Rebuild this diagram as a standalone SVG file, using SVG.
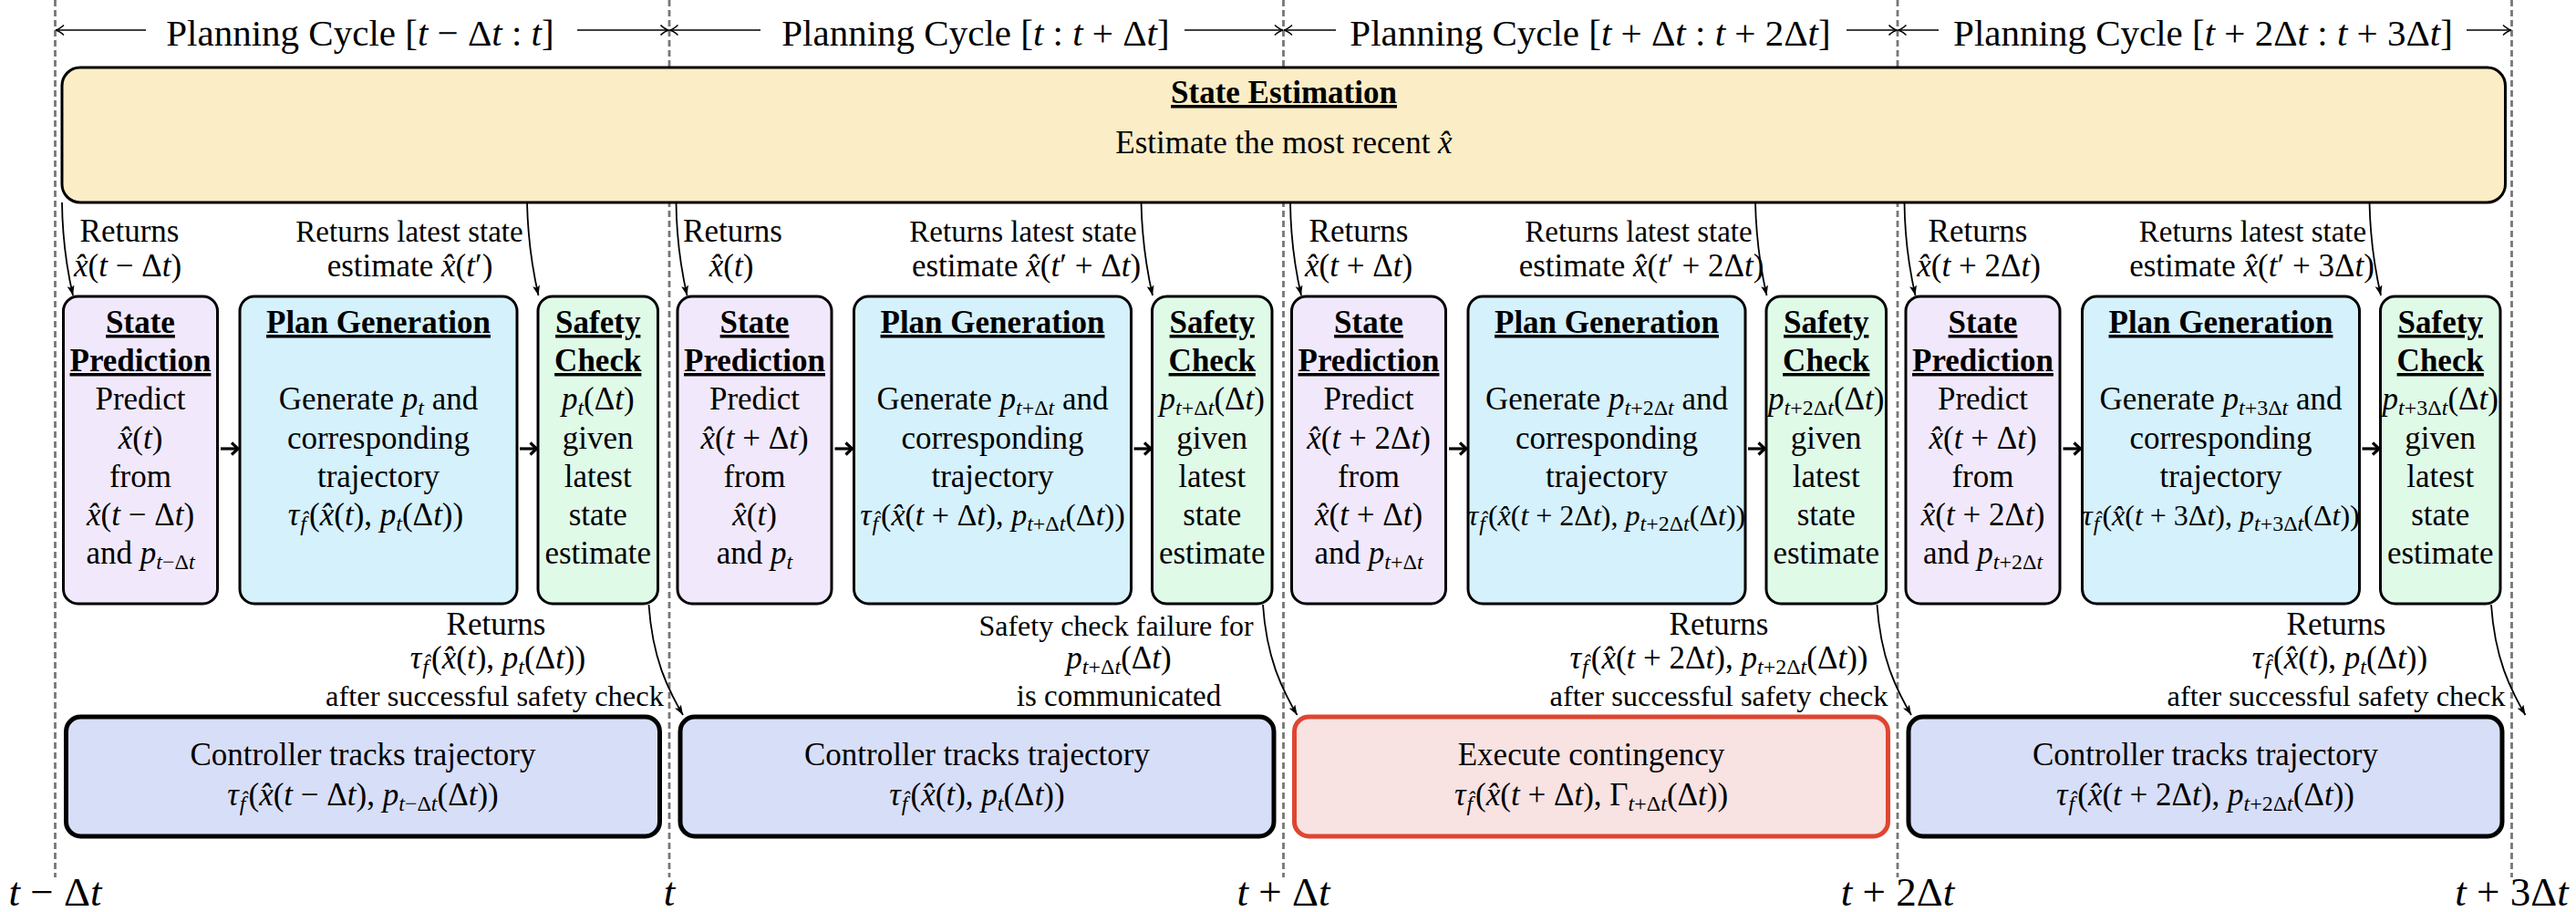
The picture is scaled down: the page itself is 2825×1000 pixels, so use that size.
<svg xmlns="http://www.w3.org/2000/svg" width="2825" height="1000" viewBox="0 0 2825 1000">
<style>
text{font-family:"Liberation Serif","Times New Roman",serif;font-size:35px;fill:#000;text-anchor:middle}
.i{font-style:italic}
.s{font-size:24px}
.b{font-weight:bold;text-decoration:underline}
.ttl{font-size:41px}
.tl{font-size:45px}
.m32{font-size:32px}
.m34{font-size:34px}
.f33{font-size:33px}
.f32{font-size:32.5px}
.box{stroke:#000;stroke-width:3}
.low{stroke:#000;stroke-width:5}
.se{fill:#FBEDC6}
.sp{fill:#F1E9FB}
.pg{fill:#D5F1FC}
.sc{fill:#E0FAE8}
.ct{fill:#D7DEF8}
.cg{fill:#F8E2E2;stroke:#DF4530;stroke-width:5}
.dash{stroke:#777;stroke-width:2.8;stroke-dasharray:7 4;fill:none}
.cur{fill:none;stroke:#000;stroke-width:1.8;marker-end:url(#ah)}
.tarr{fill:none;stroke:#000;stroke-width:1.6;marker-end:url(#to)}
.barr{fill:none;stroke:#000;stroke-width:3.2;marker-end:url(#bh)}
</style>
<defs>
<marker id="ah" markerUnits="userSpaceOnUse" markerWidth="12" markerHeight="9" refX="11" refY="4" orient="auto"><path d="M0,0 L11,4 L0,8 L2.5,4 z" fill="#000"/></marker>
<marker id="to" markerUnits="userSpaceOnUse" markerWidth="12" markerHeight="14" refX="10" refY="7" orient="auto"><path d="M1,1.5 Q6,6 10,7 Q6,8 1,12.5" fill="none" stroke="#000" stroke-width="1.6"/></marker>
<marker id="bh" markerUnits="userSpaceOnUse" markerWidth="12" markerHeight="16" refX="9" refY="8" orient="auto"><path d="M2,1.5 L9,8 L2,14.5" fill="none" stroke="#000" stroke-width="3.2"/></marker>
</defs>

<g id="timeline">
<line class="dash" x1="60.5" y1="0" x2="60.5" y2="962"/>
<line class="dash" x1="734" y1="0" x2="734" y2="962"/>
<line class="dash" x1="1407.5" y1="0" x2="1407.5" y2="962"/>
<line class="dash" x1="2081" y1="0" x2="2081" y2="962"/>
<line class="dash" x1="2754.5" y1="0" x2="2754.5" y2="962"/>
<text class="tl" x="60.5" y="993"><tspan class="i">t</tspan> − Δ<tspan class="i">t</tspan></text>
<text class="tl" x="734" y="993"><tspan class="i">t</tspan></text>
<text class="tl" x="1407.5" y="993"><tspan class="i">t</tspan> + Δ<tspan class="i">t</tspan></text>
<text class="tl" x="2081" y="993"><tspan class="i">t</tspan> + 2Δ<tspan class="i">t</tspan></text>
<text class="tl" x="2754.5" y="993"><tspan class="i">t</tspan> + 3Δ<tspan class="i">t</tspan></text>
</g>

<g id="cycle-titles">
<path class="tarr" d="M160,33 L61,33"/>
<path class="tarr" d="M633,33 L733.5,33"/>
<text class="ttl" x="395" y="50">Planning Cycle [<tspan class="i">t</tspan> − Δ<tspan class="i">t</tspan> : <tspan class="i">t</tspan>]</text>
<path class="tarr" d="M834,33 L734.5,33"/>
<path class="tarr" d="M1299,33 L1407,33"/>
<text class="ttl" x="1070" y="50">Planning Cycle [<tspan class="i">t</tspan> : <tspan class="i">t</tspan> + Δ<tspan class="i">t</tspan>]</text>
<path class="tarr" d="M1465,33 L1408,33"/>
<path class="tarr" d="M2025,33 L2080.5,33"/>
<text class="ttl" x="1744" y="50">Planning Cycle [<tspan class="i">t</tspan> + Δ<tspan class="i">t</tspan> : <tspan class="i">t</tspan> + 2Δ<tspan class="i">t</tspan>]</text>
<path class="tarr" d="M2126,33 L2081.5,33"/>
<path class="tarr" d="M2705,33 L2754,33"/>
<text class="ttl" x="2416" y="50">Planning Cycle [<tspan class="i">t</tspan> + 2Δ<tspan class="i">t</tspan> : <tspan class="i">t</tspan> + 3Δ<tspan class="i">t</tspan>]</text>
</g>

<g id="state-estimation">
<rect class="box se" x="68" y="74" width="2679.5" height="148" rx="20"/>
<text class="b" x="1408" y="113">State Estimation</text>
<text x="1408" y="168">Estimate the most recent <tspan class="i">x̂</tspan></text>
</g>

<!-- Cycle 1 -->
<g id="state-prediction-1">
<rect class="box sp" x="69.5" y="325" width="169" height="337" rx="16"/>
<text class="b" x="154" y="365">State</text>
<text class="b" x="154" y="407">Prediction</text>
<text x="154" y="449">Predict</text>
<text x="154" y="491.5"><tspan class="i">x̂</tspan>(<tspan class="i">t</tspan>)</text>
<text x="154" y="533.5">from</text>
<text x="154" y="576"><tspan class="i">x̂</tspan>(<tspan class="i">t</tspan> − Δ<tspan class="i">t</tspan>)</text>
<text x="154" y="618">and <tspan class="i">p</tspan><tspan class="s i" dy="6">t</tspan><tspan class="s">−Δ</tspan><tspan class="s i">t</tspan></text>
</g>
<g id="plan-generation-1">
<rect class="box pg" x="263" y="325" width="304" height="337" rx="16"/>
<text class="b" x="415" y="365">Plan Generation</text>
<text x="415" y="449">Generate <tspan class="i">p</tspan><tspan class="s i" dy="6">t</tspan><tspan dy="-6"> and</tspan></text>
<text x="415" y="491.5">corresponding</text>
<text x="415" y="533.5">trajectory</text>
<text x="412" y="576"><tspan class="i">τ</tspan><tspan class="s i" dy="6" dx="1">f̂</tspan><tspan dy="-6" dx="3">(</tspan><tspan class="i">x̂</tspan>(<tspan class="i">t</tspan>), <tspan class="i">p</tspan><tspan class="s i" dy="6">t</tspan><tspan dy="-6">(Δ</tspan><tspan class="i">t</tspan>))</text>
</g>
<g id="safety-check-1">
<rect class="box sc" x="590" y="325" width="131.5" height="337" rx="16"/>
<text class="b" x="655.75" y="365">Safety</text>
<text class="b" x="655.75" y="407">Check</text>
<text x="655.75" y="449"><tspan class="i">p</tspan><tspan class="s i" dy="6">t</tspan><tspan dy="-6">(Δ</tspan><tspan class="i">t</tspan>)</text>
<text x="655.75" y="491.5">given</text>
<text x="655.75" y="533.5">latest</text>
<text x="655.75" y="576">state</text>
<text x="655.75" y="618">estimate</text>
</g>
<g id="controller-1">
<rect class="low ct" x="72.5" y="786" width="651" height="131" rx="16"/>
<text x="398" y="839">Controller tracks trajectory</text>
<text x="398" y="883"><tspan class="i">τ</tspan><tspan class="s i" dy="6" dx="1">f̂</tspan><tspan dy="-6" dx="3">(</tspan><tspan class="i">x̂</tspan>(<tspan class="i">t</tspan> − Δ<tspan class="i">t</tspan>), <tspan class="i">p</tspan><tspan class="s i" dy="6">t</tspan><tspan class="s">−Δ</tspan><tspan class="s i">t</tspan><tspan dy="-6">(Δ</tspan><tspan class="i">t</tspan>))</text>
</g>

<!-- Cycle 2 -->
<g id="state-prediction-2">
<rect class="box sp" x="743" y="325" width="169" height="337" rx="16"/>
<text class="b" x="827.5" y="365">State</text>
<text class="b" x="827.5" y="407">Prediction</text>
<text x="827.5" y="449">Predict</text>
<text x="827.5" y="491.5"><tspan class="i">x̂</tspan>(<tspan class="i">t</tspan> + Δ<tspan class="i">t</tspan>)</text>
<text x="827.5" y="533.5">from</text>
<text x="827.5" y="576"><tspan class="i">x̂</tspan>(<tspan class="i">t</tspan>)</text>
<text x="827.5" y="618">and <tspan class="i">p</tspan><tspan class="s i" dy="6">t</tspan></text>
</g>
<g id="plan-generation-2">
<rect class="box pg" x="936.5" y="325" width="304" height="337" rx="16"/>
<text class="b" x="1088.5" y="365">Plan Generation</text>
<text x="1088.5" y="449">Generate <tspan class="i">p</tspan><tspan class="s i" dy="6">t</tspan><tspan class="s">+Δ</tspan><tspan class="s i">t</tspan><tspan dy="-6"> and</tspan></text>
<text x="1088.5" y="491.5">corresponding</text>
<text x="1088.5" y="533.5">trajectory</text>
<text class="m34" x="1088.5" y="576"><tspan class="i">τ</tspan><tspan class="s i" dy="6" dx="1">f̂</tspan><tspan dy="-6" dx="3">(</tspan><tspan class="i">x̂</tspan>(<tspan class="i">t</tspan> + Δ<tspan class="i">t</tspan>), <tspan class="i">p</tspan><tspan class="s i" dy="6">t</tspan><tspan class="s">+Δ</tspan><tspan class="s i">t</tspan><tspan dy="-6">(Δ</tspan><tspan class="i">t</tspan>))</text>
</g>
<g id="safety-check-2">
<rect class="box sc" x="1263.5" y="325" width="131.5" height="337" rx="16"/>
<text class="b" x="1329.25" y="365">Safety</text>
<text class="b" x="1329.25" y="407">Check</text>
<text x="1329.25" y="449"><tspan class="i">p</tspan><tspan class="s i" dy="6">t</tspan><tspan class="s">+Δ</tspan><tspan class="s i">t</tspan><tspan dy="-6">(Δ</tspan><tspan class="i">t</tspan>)</text>
<text x="1329.25" y="491.5">given</text>
<text x="1329.25" y="533.5">latest</text>
<text x="1329.25" y="576">state</text>
<text x="1329.25" y="618">estimate</text>
</g>
<g id="controller-2">
<rect class="low ct" x="746" y="786" width="651" height="131" rx="16"/>
<text x="1071.5" y="839">Controller tracks trajectory</text>
<text x="1071.5" y="883"><tspan class="i">τ</tspan><tspan class="s i" dy="6" dx="1">f̂</tspan><tspan dy="-6" dx="3">(</tspan><tspan class="i">x̂</tspan>(<tspan class="i">t</tspan>), <tspan class="i">p</tspan><tspan class="s i" dy="6">t</tspan><tspan dy="-6">(Δ</tspan><tspan class="i">t</tspan>))</text>
</g>

<!-- Cycle 3 -->
<g id="state-prediction-3">
<rect class="box sp" x="1416.5" y="325" width="169" height="337" rx="16"/>
<text class="b" x="1501" y="365">State</text>
<text class="b" x="1501" y="407">Prediction</text>
<text x="1501" y="449">Predict</text>
<text x="1501" y="491.5"><tspan class="i">x̂</tspan>(<tspan class="i">t</tspan> + 2Δ<tspan class="i">t</tspan>)</text>
<text x="1501" y="533.5">from</text>
<text x="1501" y="576"><tspan class="i">x̂</tspan>(<tspan class="i">t</tspan> + Δ<tspan class="i">t</tspan>)</text>
<text x="1501" y="618">and <tspan class="i">p</tspan><tspan class="s i" dy="6">t</tspan><tspan class="s">+Δ</tspan><tspan class="s i">t</tspan></text>
</g>
<g id="plan-generation-3">
<rect class="box pg" x="1610" y="325" width="304" height="337" rx="16"/>
<text class="b" x="1762" y="365">Plan Generation</text>
<text x="1762" y="449">Generate <tspan class="i">p</tspan><tspan class="s i" dy="6">t</tspan><tspan class="s">+2Δ</tspan><tspan class="s i">t</tspan><tspan dy="-6"> and</tspan></text>
<text x="1762" y="491.5">corresponding</text>
<text x="1762" y="533.5">trajectory</text>
<text class="m32" x="1762" y="576"><tspan class="i">τ</tspan><tspan class="s i" dy="6" dx="1">f̂</tspan><tspan dy="-6" dx="3">(</tspan><tspan class="i">x̂</tspan>(<tspan class="i">t</tspan> + 2Δ<tspan class="i">t</tspan>), <tspan class="i">p</tspan><tspan class="s i" dy="6">t</tspan><tspan class="s">+2Δ</tspan><tspan class="s i">t</tspan><tspan dy="-6">(Δ</tspan><tspan class="i">t</tspan>))</text>
</g>
<g id="safety-check-3">
<rect class="box sc" x="1937" y="325" width="131.5" height="337" rx="16"/>
<text class="b" x="2002.75" y="365">Safety</text>
<text class="b" x="2002.75" y="407">Check</text>
<text x="2002.75" y="449"><tspan class="i">p</tspan><tspan class="s i" dy="6">t</tspan><tspan class="s">+2Δ</tspan><tspan class="s i">t</tspan><tspan dy="-6">(Δ</tspan><tspan class="i">t</tspan>)</text>
<text x="2002.75" y="491.5">given</text>
<text x="2002.75" y="533.5">latest</text>
<text x="2002.75" y="576">state</text>
<text x="2002.75" y="618">estimate</text>
</g>
<g id="contingency-3">
<rect class="cg" x="1419.5" y="786" width="651" height="131" rx="16"/>
<text x="1745" y="839">Execute contingency</text>
<text x="1745" y="883"><tspan class="i">τ</tspan><tspan class="s i" dy="6" dx="1">f̂</tspan><tspan dy="-6" dx="3">(</tspan><tspan class="i">x̂</tspan>(<tspan class="i">t</tspan> + Δ<tspan class="i">t</tspan>), Γ<tspan class="s i" dy="6">t</tspan><tspan class="s">+Δ</tspan><tspan class="s i">t</tspan><tspan dy="-6">(Δ</tspan><tspan class="i">t</tspan>))</text>
</g>

<!-- Cycle 4 -->
<g id="state-prediction-4">
<rect class="box sp" x="2090" y="325" width="169" height="337" rx="16"/>
<text class="b" x="2174.5" y="365">State</text>
<text class="b" x="2174.5" y="407">Prediction</text>
<text x="2174.5" y="449">Predict</text>
<text x="2174.5" y="491.5"><tspan class="i">x̂</tspan>(<tspan class="i">t</tspan> + Δ<tspan class="i">t</tspan>)</text>
<text x="2174.5" y="533.5">from</text>
<text x="2174.5" y="576"><tspan class="i">x̂</tspan>(<tspan class="i">t</tspan> + 2Δ<tspan class="i">t</tspan>)</text>
<text x="2174.5" y="618">and <tspan class="i">p</tspan><tspan class="s i" dy="6">t</tspan><tspan class="s">+2Δ</tspan><tspan class="s i">t</tspan></text>
</g>
<g id="plan-generation-4">
<rect class="box pg" x="2283.5" y="325" width="304" height="337" rx="16"/>
<text class="b" x="2435.5" y="365">Plan Generation</text>
<text x="2435.5" y="449">Generate <tspan class="i">p</tspan><tspan class="s i" dy="6">t</tspan><tspan class="s">+3Δ</tspan><tspan class="s i">t</tspan><tspan dy="-6"> and</tspan></text>
<text x="2435.5" y="491.5">corresponding</text>
<text x="2435.5" y="533.5">trajectory</text>
<text class="m32" x="2435.5" y="576"><tspan class="i">τ</tspan><tspan class="s i" dy="6" dx="1">f̂</tspan><tspan dy="-6" dx="3">(</tspan><tspan class="i">x̂</tspan>(<tspan class="i">t</tspan> + 3Δ<tspan class="i">t</tspan>), <tspan class="i">p</tspan><tspan class="s i" dy="6">t</tspan><tspan class="s">+3Δ</tspan><tspan class="s i">t</tspan><tspan dy="-6">(Δ</tspan><tspan class="i">t</tspan>))</text>
</g>
<g id="safety-check-4">
<rect class="box sc" x="2610.5" y="325" width="131.5" height="337" rx="16"/>
<text class="b" x="2676.25" y="365">Safety</text>
<text class="b" x="2676.25" y="407">Check</text>
<text x="2676.25" y="449"><tspan class="i">p</tspan><tspan class="s i" dy="6">t</tspan><tspan class="s">+3Δ</tspan><tspan class="s i">t</tspan><tspan dy="-6">(Δ</tspan><tspan class="i">t</tspan>)</text>
<text x="2676.25" y="491.5">given</text>
<text x="2676.25" y="533.5">latest</text>
<text x="2676.25" y="576">state</text>
<text x="2676.25" y="618">estimate</text>
</g>
<g id="controller-4">
<rect class="low ct" x="2093" y="786" width="651" height="131" rx="16"/>
<text x="2418.5" y="839">Controller tracks trajectory</text>
<text x="2418.5" y="883"><tspan class="i">τ</tspan><tspan class="s i" dy="6" dx="1">f̂</tspan><tspan dy="-6" dx="3">(</tspan><tspan class="i">x̂</tspan>(<tspan class="i">t</tspan> + 2Δ<tspan class="i">t</tspan>), <tspan class="i">p</tspan><tspan class="s i" dy="6">t</tspan><tspan class="s">+2Δ</tspan><tspan class="s i">t</tspan><tspan dy="-6">(Δ</tspan><tspan class="i">t</tspan>))</text>
</g>

<g id="connectors">
<path class="cur" d="M68,222 C68.5,268 74.5,300 80,324"/>
<path class="cur" d="M578,222 C579,268 585,300 590.5,324"/>
<path class="cur" d="M741.5,222 C742,268 748,300 753.5,324"/>
<path class="cur" d="M1251.5,222 C1252.5,268 1258.5,300 1264,324"/>
<path class="cur" d="M1415,222 C1415.5,268 1421.5,300 1427,324"/>
<path class="cur" d="M1925,222 C1926,268 1932,300 1937.5,324"/>
<path class="cur" d="M2088.5,222 C2089,268 2095,300 2100.5,324"/>
<path class="cur" d="M2598.5,222 C2599.5,268 2605.5,300 2611,324"/>
<path class="barr" d="M242,492 L261,492"/>
<path class="barr" d="M570,492 L588.5,492"/>
<path class="barr" d="M915.5,492 L934.5,492"/>
<path class="barr" d="M1243.5,492 L1262,492"/>
<path class="barr" d="M1589,492 L1608,492"/>
<path class="barr" d="M1917,492 L1935.5,492"/>
<path class="barr" d="M2262.5,492 L2281.5,492"/>
<path class="barr" d="M2590.5,492 L2609,492"/>
<path class="cur" d="M711.5,663 C715.5,722 732.5,756 749,784"/>
<path class="cur" d="M1385,663 C1389,722 1406,756 1422.5,784"/>
<path class="cur" d="M2058.5,663 C2062.5,722 2079.5,756 2096,784"/>
<path class="cur" d="M2732,663 C2736,722 2753,756 2769.5,784"/>
</g>

<g id="connector-labels">
<text x="142" y="265">Returns</text>
<text x="140" y="303"><tspan class="i">x̂</tspan>(<tspan class="i">t</tspan> − Δ<tspan class="i">t</tspan>)</text>
<text class="f33" x="449" y="265">Returns latest state</text>
<text x="449.5" y="303">estimate <tspan class="i">x̂</tspan>(<tspan class="i">t</tspan>′)</text>
<text x="803.5" y="265">Returns</text>
<text x="802" y="303"><tspan class="i">x̂</tspan>(<tspan class="i">t</tspan>)</text>
<text class="f33" x="1122" y="265">Returns latest state</text>
<text x="1125.5" y="303">estimate <tspan class="i">x̂</tspan>(<tspan class="i">t</tspan>′ + Δ<tspan class="i">t</tspan>)</text>
<text x="1490" y="265">Returns</text>
<text x="1490" y="303"><tspan class="i">x̂</tspan>(<tspan class="i">t</tspan> + Δ<tspan class="i">t</tspan>)</text>
<text class="f33" x="1797" y="265">Returns latest state</text>
<text x="1800" y="303">estimate <tspan class="i">x̂</tspan>(<tspan class="i">t</tspan>′ + 2Δ<tspan class="i">t</tspan>)</text>
<text x="2169" y="265">Returns</text>
<text x="2170" y="303"><tspan class="i">x̂</tspan>(<tspan class="i">t</tspan> + 2Δ<tspan class="i">t</tspan>)</text>
<text class="f33" x="2470.5" y="265">Returns latest state</text>
<text x="2469.5" y="303">estimate <tspan class="i">x̂</tspan>(<tspan class="i">t</tspan>′ + 3Δ<tspan class="i">t</tspan>)</text>

<text x="544" y="696">Returns</text>
<text x="546" y="733"><tspan class="i">τ</tspan><tspan class="s i" dy="6" dx="1">f̂</tspan><tspan dy="-6" dx="3">(</tspan><tspan class="i">x̂</tspan>(<tspan class="i">t</tspan>), <tspan class="i">p</tspan><tspan class="s i" dy="6">t</tspan><tspan dy="-6">(Δ</tspan><tspan class="i">t</tspan>))</text>
<text class="f32" x="542.5" y="774">after successful safety check</text>
<text class="m32" x="1224" y="697">Safety check failure for</text>
<text x="1227" y="733"><tspan class="i">p</tspan><tspan class="s i" dy="6">t</tspan><tspan class="s">+Δ</tspan><tspan class="s i">t</tspan><tspan dy="-6">(Δ</tspan><tspan class="i">t</tspan>)</text>
<text class="f33" x="1227" y="774">is communicated</text>
<text x="1885" y="696">Returns</text>
<text x="1885" y="733"><tspan class="i">τ</tspan><tspan class="s i" dy="6" dx="1">f̂</tspan><tspan dy="-6" dx="3">(</tspan><tspan class="i">x̂</tspan>(<tspan class="i">t</tspan> + 2Δ<tspan class="i">t</tspan>), <tspan class="i">p</tspan><tspan class="s i" dy="6">t</tspan><tspan class="s">+2Δ</tspan><tspan class="s i">t</tspan><tspan dy="-6">(Δ</tspan><tspan class="i">t</tspan>))</text>
<text class="f32" x="1885" y="774">after successful safety check</text>
<text x="2562" y="696">Returns</text>
<text x="2566" y="733"><tspan class="i">τ</tspan><tspan class="s i" dy="6" dx="1">f̂</tspan><tspan dy="-6" dx="3">(</tspan><tspan class="i">x̂</tspan>(<tspan class="i">t</tspan>), <tspan class="i">p</tspan><tspan class="s i" dy="6">t</tspan><tspan dy="-6">(Δ</tspan><tspan class="i">t</tspan>))</text>
<text class="f32" x="2562" y="774">after successful safety check</text>
</g>
</svg>
